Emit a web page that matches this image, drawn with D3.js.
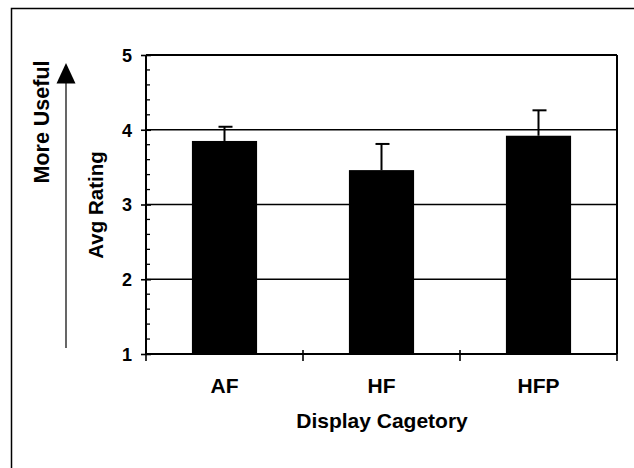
<!DOCTYPE html>
<html>
<head>
<meta charset="utf-8">
<script src="https://cdn.jsdelivr.net/npm/d3@7"></script>
<style>
  html, body { margin: 0; padding: 0; background: #fff; }
  svg { display: block; }
  text { font-family: "Liberation Sans", Arial, sans-serif; font-weight: bold; fill: #000; }
</style>
</head>
<body>
<svg id="chart" width="634" height="468"></svg>
<script>
const categories = ["AF", "HF", "HFP"];
const avgRating = [3.85, 3.46, 3.92];
const errorUp = [0.19, 0.35, 0.34];
const yTicks = [1, 2, 3, 4, 5];
const gridValues = [2, 3, 4];
const xTitle = "Display Cagetory";
const yTitle = "Avg Rating";
const sideNote = "More Useful";

const svg = d3.select("#chart");
const W = 634, H = 468;
const plot = { left: 146, right: 617, top: 55, bottom: 354 };

svg.append("rect").attr("width", W).attr("height", H).attr("fill", "#fff");

// outer frame (extends past right/bottom edge)
svg.append("rect")
  .attr("x", 11.5).attr("y", 8.5).attr("width", 700).attr("height", 600)
  .attr("fill", "none").attr("stroke", "#000").attr("stroke-width", 1.5);

const x = d3.scaleBand().domain(categories).range([plot.left, plot.right]).padding(0);
const y = d3.scaleLinear().domain([1, 5]).range([plot.bottom, plot.top]);

// gridlines
svg.append("g").selectAll("line").data(gridValues).join("line")
  .attr("x1", plot.left).attr("x2", plot.right)
  .attr("y1", d => y(d)).attr("y2", d => y(d))
  .attr("stroke", "#000").attr("stroke-width", 1.6);

// plot border top & right
svg.append("line").attr("x1", plot.left).attr("x2", plot.right)
  .attr("y1", y(5)).attr("y2", y(5)).attr("stroke", "#000").attr("stroke-width", 2);
svg.append("line").attr("x1", plot.right).attr("x2", plot.right)
  .attr("y1", y(5)).attr("y2", y(1)).attr("stroke", "#000").attr("stroke-width", 2);

// bars
const barFrac = 0.415;
const bw = x.bandwidth() * barFrac;
svg.append("g").selectAll("rect").data(categories).join("rect")
  .attr("x", d => x(d) + (x.bandwidth() - bw) / 2)
  .attr("width", bw)
  .attr("y", (d, i) => y(avgRating[i]))
  .attr("height", (d, i) => y(1) - y(avgRating[i]))
  .attr("fill", "#000");

// error bars (upper only)
const eb = svg.append("g").attr("stroke", "#000").attr("stroke-width", 2);
categories.forEach((c, i) => {
  const cx = x(c) + x.bandwidth() / 2;
  eb.append("line").attr("x1", cx).attr("x2", cx)
    .attr("y1", y(avgRating[i])).attr("y2", y(avgRating[i] + errorUp[i]));
  eb.append("line").attr("x1", cx - 6).attr("x2", cx + 8)
    .attr("y1", y(avgRating[i] + errorUp[i])).attr("y2", y(avgRating[i] + errorUp[i]));
});

// y axis
const yAxis = d3.axisLeft(y).tickValues(yTicks).tickSize(5).tickPadding(9).tickFormat(d3.format("d"));
const gy = svg.append("g").attr("transform", `translate(${plot.left},0)`).call(yAxis);
gy.select(".domain").attr("stroke", "#000").attr("stroke-width", 2).attr("d", `M0,${y(5)}V${y(1)}`);
gy.selectAll(".tick line").attr("stroke", "#000").attr("stroke-width", 1.6).attr("x2", -5).attr("x1", 5);
gy.selectAll(".tick text").style("font-size", "18px").style("font-weight", "bold")
  .style("font-family", '"Liberation Sans", Arial, sans-serif').attr("fill", "#000").attr("dy", "0.36em");

// minor y ticks
const minor = d3.range(1.2, 5, 0.2).filter(v => Math.abs(v - Math.round(v)) > 0.01);
svg.append("g").selectAll("line").data(minor).join("line")
  .attr("x1", plot.left).attr("x2", plot.left + 4)
  .attr("y1", d => y(d)).attr("y2", d => y(d))
  .attr("stroke", "#000").attr("stroke-width", 1.3);

// x axis
const gx = svg.append("g").attr("transform", `translate(0,${plot.bottom})`);
gx.append("line").attr("x1", plot.left).attr("x2", plot.right).attr("stroke", "#000").attr("stroke-width", 2.2);
const bounds = categories.map(c => x(c)).concat([plot.right]);
gx.selectAll("line.tk").data(bounds).join("line").attr("class", "tk")
  .attr("x1", d => d).attr("x2", d => d).attr("y1", -4).attr("y2", 7)
  .attr("stroke", "#000").attr("stroke-width", 1.6);
gx.selectAll("text").data(categories).join("text")
  .attr("x", d => x(d) + x.bandwidth() / 2).attr("y", 39)
  .attr("text-anchor", "middle").style("font-size", "21px").text(d => d);

// axis titles
svg.append("text").attr("x", 382).attr("y", 428).attr("text-anchor", "middle")
  .style("font-size", "21px").text(xTitle);
svg.append("text").attr("transform", "translate(103,205) rotate(-90)")
  .attr("text-anchor", "middle").style("font-size", "20.5px").text(yTitle);
svg.append("text").attr("transform", "translate(49,122) rotate(-90)")
  .attr("text-anchor", "middle").style("font-size", "21.5px").text(sideNote);

// arrow
svg.append("line").attr("x1", 66).attr("x2", 66).attr("y1", 348).attr("y2", 80)
  .attr("stroke", "#000").attr("stroke-width", 1.2);
svg.append("path").attr("d", "M66,63L56.5,83.5L75.5,83.5Z").attr("fill", "#000");
</script>
</body>
</html>
